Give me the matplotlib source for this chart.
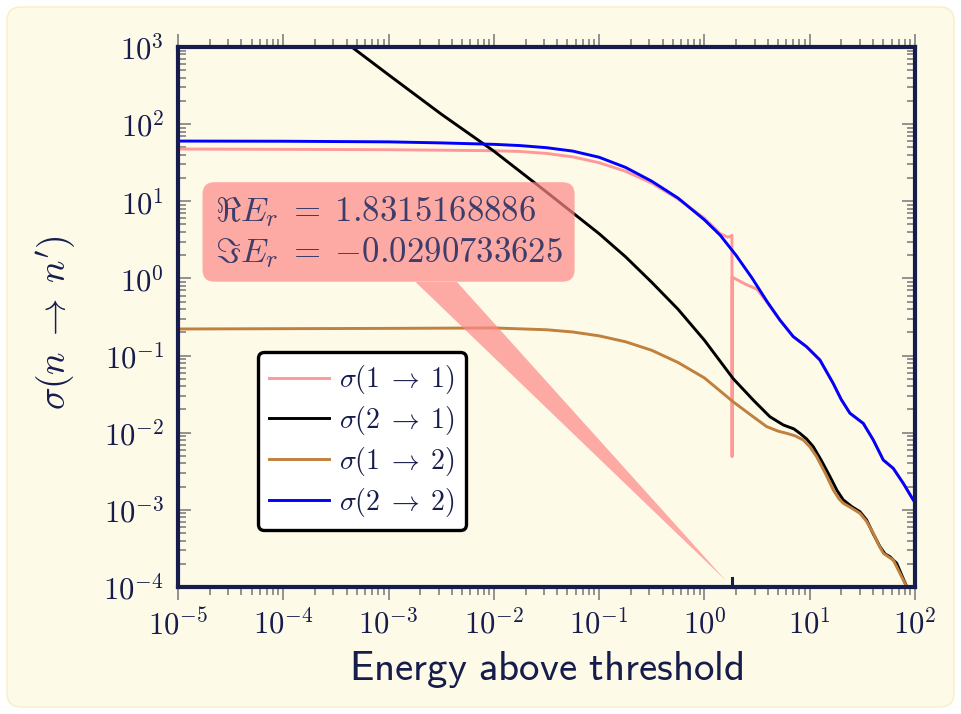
import numpy as np
import matplotlib.pyplot as plt
from matplotlib.patches import FancyBboxPatch, Rectangle
from matplotlib.transforms import IdentityTransform
from matplotlib.ticker import LogLocator, NullFormatter

plt.rcParams['mathtext.fontset'] = 'cm'

navy = '#161c4c'
gray = '#8a8a8a'
cream = '#fdfae8'
pink = '#ff9999'

# resonance position
re_Er = 1.8315168886
im_Er = -0.0290733625

# sigma(2 -> 2)
x22 = [1e-5, 1e-4, 1e-3, 0.00316, 0.01, 0.0178, 0.0316, 0.0562, 0.1, 0.178, 0.316, 0.562,
       1.0, 1.413, 1.995, 2.818, 3.981, 5.21, 6.98, 9.35, 12.5, 16.7, 19.95, 24.1, 32.3,
       40.2, 50.0, 62.2, 77.4, 96.4, 100]
y22 = [60.3, 60.0, 58.9, 57.1, 54.7, 52.7, 49.5, 44.7, 37.2, 27.5, 18.2, 11.0,
       5.75, 3.63, 2.0, 1.023, 0.490, 0.289, 0.176, 0.130, 0.0877, 0.0437, 0.0269, 0.0179, 0.0132,
       0.00804, 0.00443, 0.00345, 0.00221, 0.00134, 0.00126]

# sigma(1 -> 1): same as sigma(2 -> 2) above ~4, sharp feature at the resonance
x11 = [1e-5, 1e-3, 0.01, 0.0178, 0.0316, 0.0562, 0.1, 0.178, 0.316, 0.562, 1.0, 1.413,
       1.66, 1.80, 1.826, 1.8315, 1.837, 2.43, 3.16, 3.98] + x22[17:]
y11 = [47.6, 46.6, 45.2, 44.2, 41.7, 37.6, 31.6, 24.5, 17.2, 10.7, 6.03, 3.80,
       3.43, 3.51, 3.63, 0.0049, 1.04, 0.847, 0.724, 0.479] + y22[17:]

# sigma(2 -> 1)
x21 = [4.47e-4, 0.001, 0.00316, 0.01, 0.0316, 0.1, 0.178, 0.316, 0.562, 1.0, 1.879, 2.91,
       4.19, 5.61, 7.08, 8.07, 9.33, 10.8, 12.9, 15.6, 18.2, 20.8, 25.1, 30.0, 34.7, 39.8,
       46.5, 51.9, 57.8, 67.0, 83.4, 89.1]
y21 = [1000, 436, 135, 44.7, 13.2, 3.80, 1.91, 0.891, 0.398, 0.158, 0.0501, 0.0265,
       0.0161, 0.0126, 0.0112, 0.00982, 0.00832, 0.00661, 0.00437, 0.00269, 0.00178, 0.00135,
       0.0011, 0.000946, 0.000741, 0.000501, 0.000333, 0.000269, 0.000247, 0.000203,
       0.000101, 7.9e-5]

# sigma(1 -> 2)
x12 = [1e-5, 1e-4, 1e-3, 0.01, 0.0316, 0.0562, 0.1, 0.178, 0.316, 0.562, 1.0, 1.879,
       2.818, 3.90, 5.01, 6.04, 7.24, 8.69, 10.0, 11.64, 14.13, 16.75, 19.05, 20.8, 25.1,
       30.0, 34.7, 40.2, 44.7, 50.0, 56.2, 62.2, 83.4, 89.1]
y12 = [0.221, 0.223, 0.225, 0.228, 0.216, 0.202, 0.180, 0.151, 0.117, 0.0813, 0.0513, 0.0251,
       0.0166, 0.0120, 0.01047, 0.00982, 0.00912, 0.00804, 0.00661, 0.00489, 0.00295, 0.00181,
       0.00138, 0.00122, 0.00105, 0.000902, 0.000708, 0.000497, 0.000363, 0.000274, 0.000245,
       0.000224, 0.000101, 7.9e-5]

labels = [r'$\sigma(1\;\rightarrow\;1)$', r'$\sigma(2\;\rightarrow\;1)$',
          r'$\sigma(1\;\rightarrow\;2)$', r'$\sigma(2\;\rightarrow\;2)$']
colors = [pink, 'black', '#c0803e', '#0000ff']

xticks = [1e-5, 1e-4, 1e-3, 1e-2, 1e-1, 1e0, 1e1, 1e2]
xtick_labels = [r'$10^{-5}$', r'$10^{-4}$', r'$10^{-3}$', r'$10^{-2}$',
                r'$10^{-1}$', r'$10^{0}$', r'$10^{1}$', r'$10^{2}$']
yticks = [1e-4, 1e-3, 1e-2, 1e-1, 1e0, 1e1, 1e2, 1e3]
ytick_labels = [r'$10^{-4}$', r'$10^{-3}$', r'$10^{-2}$', r'$10^{-1}$',
                r'$10^{0}$', r'$10^{1}$', r'$10^{2}$', r'$10^{3}$']

fig = plt.figure(figsize=(9.61, 7.14), dpi=100)
fig.patch.set_facecolor('white')
panel = FancyBboxPatch((7, 7), 947, 700, boxstyle='round,pad=0,rounding_size=14',
                       transform=IdentityTransform(), fc=cream, ec='#f6efc6', lw=1,
                       zorder=-10)
fig.patches.append(panel)

ax = fig.add_axes([0.1852, 0.1779, 0.7669, 0.7563])
ax.set_facecolor(cream)

for xs, ys, c, lab in zip([x11, x21, x12, x22], [y11, y21, y12, y22], colors, labels):
    ax.plot(xs, ys, color=c, lw=2.1, label=lab)

ax.set_xscale('log')
ax.set_yscale('log')
ax.set_xlim(1e-5, 1e2)
ax.set_ylim(1e-4, 1e3)

ax.set_xticks(xticks, labels=xtick_labels)
ax.set_yticks(yticks, labels=ytick_labels)
ax.xaxis.set_minor_locator(LogLocator(base=10, subs=np.arange(2, 10), numticks=100))
ax.yaxis.set_minor_locator(LogLocator(base=10, subs=np.arange(2, 10), numticks=100))
ax.xaxis.set_minor_formatter(NullFormatter())
ax.yaxis.set_minor_formatter(NullFormatter())

ax.tick_params(axis='x', which='both', direction='out', top=True, bottom=True,
               color=gray, labelcolor=navy, labelsize=22, pad=6, width=1.3)
ax.tick_params(axis='y', which='both', direction='in', left=True, right=True,
               color=gray, labelcolor=navy, labelsize=22, pad=10, width=1.3)
ax.tick_params(which='major', length=9.5)
ax.tick_params(which='minor', length=5.5)

for s in ax.spines.values():
    s.set_color(navy)
    s.set_linewidth(3)

ax.set_xlabel(r'$\mathsf{Energy\ above\ threshold}$', fontsize=29.5, color=navy)
ax.xaxis.set_label_coords(0.5, -0.115)
ax.set_ylabel(r"$\sigma(n\;\rightarrow\;n')$", fontsize=27, color=navy)
ax.yaxis.set_label_coords(-0.137, 0.49)

# marker at the resonance energy
ax.axvline(re_Er, ymin=0, ymax=0.016, color=navy, lw=2.2, zorder=6)

re_txt = ('%.10f' % re_Er).replace('-', '{-}')
im_txt = ('%.10f' % im_Er).replace('-', '{-}')
ann = ax.annotate(r'$\Re E_r\;=\;%s$' % re_txt + '\n' + r'$\Im E_r\;=\;%s$' % im_txt,
                  xy=(re_Er, 1e-4), xytext=(1e-3, 4.0), textcoords='data',
                  ha='center', va='center', multialignment='left',
                  fontsize=25, color='#3d3d6b', zorder=7,
                  bbox=dict(boxstyle='round,pad=0.35', fc='#ff8888', ec='none', alpha=0.7),
                  arrowprops=dict(arrowstyle='wedge,tail_width=1.0', fc='#ff8888', ec='none',
                                  alpha=0.7, patchA=None, shrinkA=0, shrinkB=6))

leg = ax.legend(loc='lower left', bbox_to_anchor=(0.109, 0.106), borderaxespad=0,
                fontsize=20, handlelength=2.15, handletextpad=0.35, labelspacing=0.28,
                fancybox=True, framealpha=1, edgecolor='black', facecolor='white',
                labelcolor=navy)
leg.get_frame().set_linewidth(2.4)
leg.set_zorder(8)

# the wedge should only show below the text box
fig.canvas.draw()
box = ann.get_bbox_patch().get_window_extent()
ann.arrow_patch.set_clip_path(Rectangle((0, 0), fig.bbox.width, box.y0,
                                        transform=IdentityTransform()))

fig.savefig('out.png', dpi=100, facecolor=fig.get_facecolor())
